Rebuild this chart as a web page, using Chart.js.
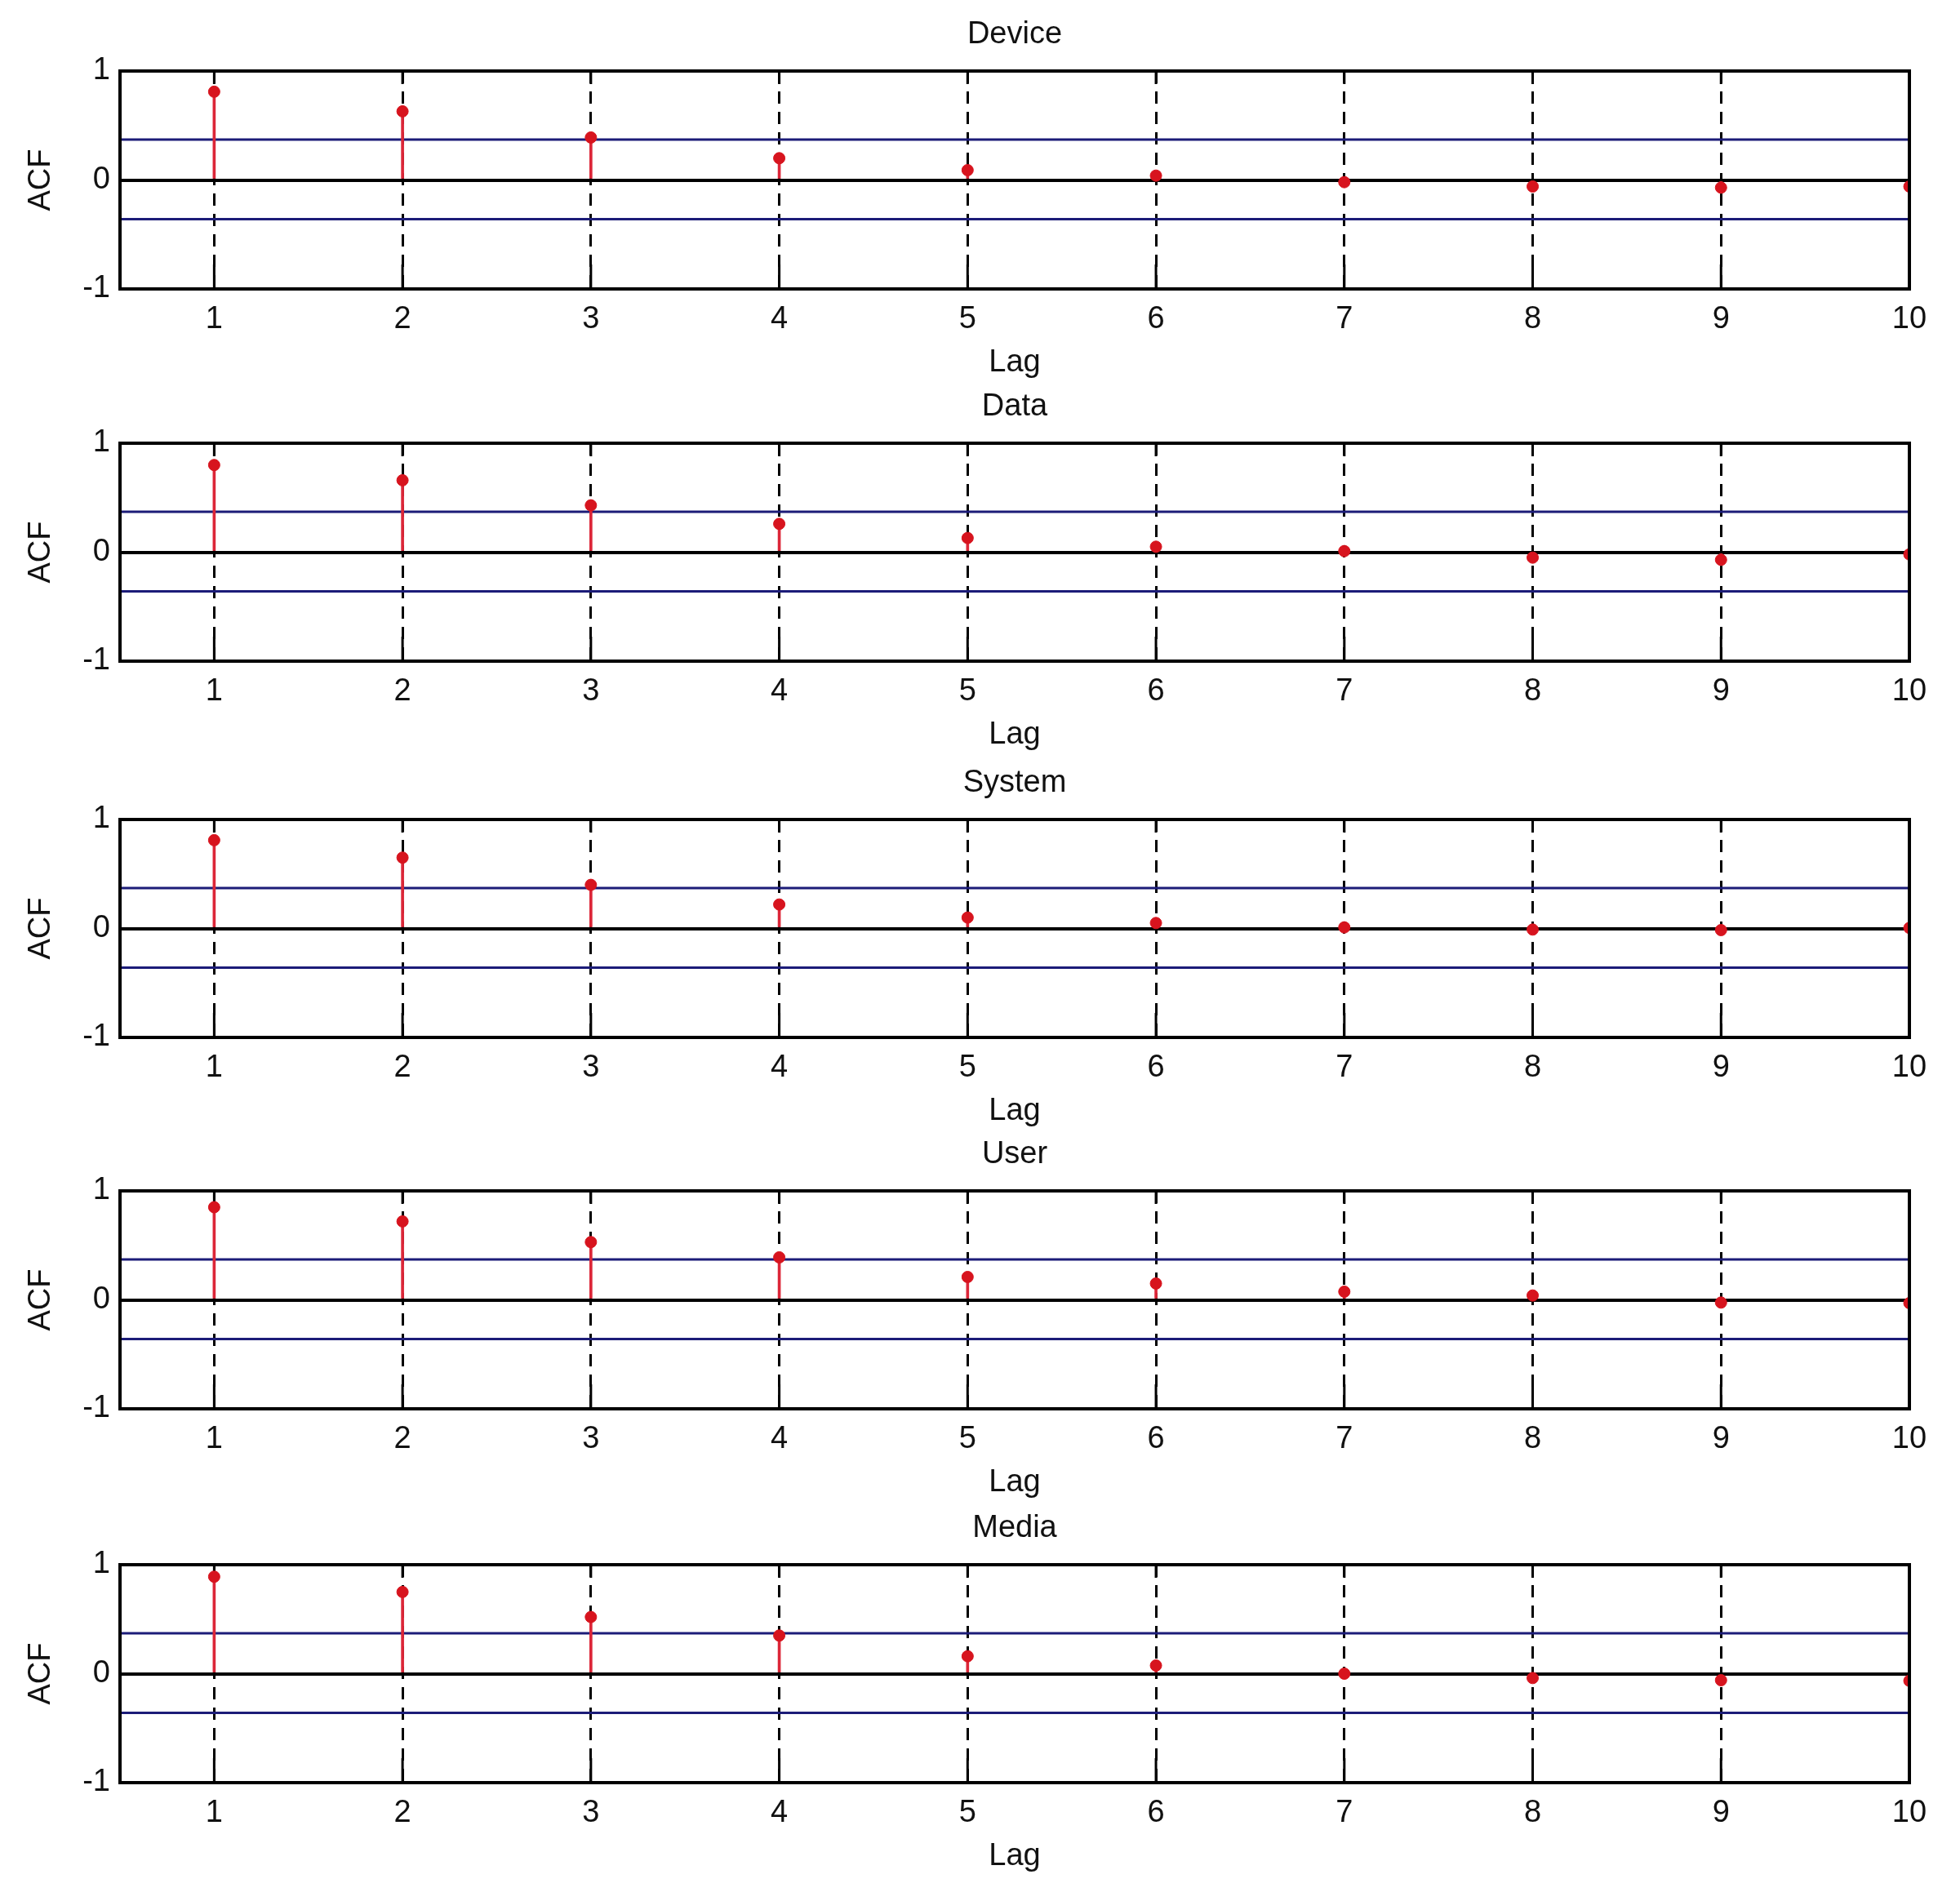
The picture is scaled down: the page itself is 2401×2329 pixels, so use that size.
<!DOCTYPE html>
<html>
<head>
<meta charset="utf-8">
<script src="https://cdn.jsdelivr.net/npm/chart.js@4/dist/chart.umd.min.js"></script>
<style>
  html, body { margin: 0; padding: 0; background: #fff; }
  #page { position: relative; width: 2401px; height: 2329px; overflow: hidden; background: #fff; }
  .panel { position: absolute; left: 0; width: 2401px; height: 480px; }
</style>
</head>
<body>
<div id="page"></div>
<script>
// Lag axis and tick labels
const lags = [1, 2, 3, 4, 5, 6, 7, 8, 9, 10];
const lagMin = 0.5;
const lagMax = 10;
const acfTicks = [-1, 0, 1];

// Panel titles, top to bottom
const panelTitles = ["Device", "Data", "System", "User", "Media"];

// ACF values per lag
const deviceAcf = [0.81, 0.63, 0.39, 0.20, 0.09, 0.04, -0.02, -0.06, -0.07, -0.06];
const dataAcf   = [0.80, 0.66, 0.43, 0.26, 0.13, 0.05, 0.01, -0.05, -0.07, -0.02];
const systemAcf = [0.81, 0.65, 0.40, 0.22, 0.10, 0.05, 0.01, -0.01, -0.015, 0.005];
const userAcf   = [0.85, 0.72, 0.53, 0.39, 0.21, 0.15, 0.075, 0.04, -0.025, -0.03];
const mediaAcf  = [0.89, 0.75, 0.52, 0.35, 0.16, 0.075, 0.0, -0.04, -0.06, -0.065];

// Confidence bounds (blue lines)
const upperBound = 0.37;
const lowerBound = -0.36;

const allSeries = [deviceAcf, dataAcf, systemAcf, userAcf, mediaAcf];

// Layout: top of each plot box in page pixels
const plotTops = [87, 543, 1004, 1459, 1917];
const headSpace = 87;

Chart.defaults.font.family = '"Liberation Sans", Arial, sans-serif';
Chart.defaults.font.size = 38;
Chart.defaults.color = "#111";

// Frame on all four sides plus short inward tick marks, like MATLAB axes
const matlabBox = {
    id: "matlabBox",
    beforeDatasetsDraw(chart) {
        const { ctx, chartArea: a, scales: { x } } = chart;
        ctx.save();
        ctx.strokeStyle = "#000";
        ctx.lineWidth = 3;
        ctx.beginPath();
        x.ticks.forEach(t => {
            const px = x.getPixelForValue(t.value);
            ctx.moveTo(px, a.top);
            ctx.lineTo(px, a.top + 16);
            ctx.moveTo(px, a.bottom);
            ctx.lineTo(px, a.bottom - 30);
        });
        ctx.stroke();
        ctx.restore();
    },
    afterDraw(chart) {
        const { ctx, chartArea: a } = chart;
        ctx.save();
        ctx.strokeStyle = "#000";
        ctx.lineWidth = 4;
        ctx.strokeRect(a.left, a.top, a.right - a.left, a.bottom - a.top);
        ctx.restore();
    }
};

const page = document.getElementById("page");

panelTitles.forEach((title, i) => {
    const values = allSeries[i];

    const box = document.createElement("div");
    box.className = "panel";
    box.style.top = (plotTops[i] - headSpace) + "px";
    const canvas = document.createElement("canvas");
    canvas.width = 2401;
    canvas.height = 480;
    box.appendChild(canvas);
    page.appendChild(box);

    const points = lags.map((lag, k) => ({ x: lag, y: values[k] }));

    new Chart(canvas.getContext("2d"), {
        type: "bar",
        data: {
            datasets: [
                {
                    // stems
                    type: "bar",
                    data: points,
                    backgroundColor: "#dc2638",
                    borderWidth: 0,
                    barThickness: 3,
                    order: 2
                },
                {
                    // markers
                    type: "line",
                    data: points,
                    showLine: false,
                    pointRadius: 7,
                    pointBackgroundColor: "#d7141e",
                    pointBorderColor: "#d7141e",
                    pointBorderWidth: 1,
                    order: 1
                },
                {
                    // upper bound
                    type: "line",
                    data: [{ x: lagMin, y: upperBound }, { x: lagMax, y: upperBound }],
                    borderColor: "#1c1c78",
                    borderWidth: 3,
                    pointRadius: 0,
                    order: 3
                },
                {
                    // lower bound
                    type: "line",
                    data: [{ x: lagMin, y: lowerBound }, { x: lagMax, y: lowerBound }],
                    borderColor: "#1c1c78",
                    borderWidth: 3,
                    pointRadius: 0,
                    order: 3
                }
            ]
        },
        options: {
            responsive: false,
            animation: false,
            devicePixelRatio: 1,
            layout: { padding: { left: 0, right: 62, top: 0, bottom: 0 } },
            plugins: {
                legend: { display: false },
                tooltip: { enabled: false },
                title: {
                    display: true,
                    text: title,
                    fullSize: false,
                    color: "#111",
                    font: { size: 38, weight: "normal" },
                    padding: { top: 20, bottom: 21.4 }
                }
            },
            scales: {
                x: {
                    type: "linear",
                    min: lagMin,
                    max: lagMax,
                    offset: false,
                    afterBuildTicks: s => { s.ticks = lags.map(v => ({ value: v })); },
                    afterFit: s => { s.height = 126; },
                    ticks: { padding: 15, color: "#111", maxRotation: 0, autoSkip: false },
                    grid: {
                        offset: false,
                        drawTicks: false,
                        color: "#000",
                        lineWidth: 3
                    },
                    border: { display: true, color: "#000", width: 4, dash: [15, 10] },
                    title: {
                        display: true,
                        text: "Lag",
                        color: "#111",
                        padding: { top: 0, bottom: 13 }
                    }
                },
                y: {
                    min: -1,
                    max: 1,
                    afterBuildTicks: s => { s.ticks = acfTicks.map(v => ({ value: v })); },
                    afterFit: s => { s.width = 147; },
                    ticks: { padding: 12, color: "#111", callback: v => String(v) },
                    grid: {
                        drawTicks: false,
                        color: c => (c.tick && c.tick.value === 0 ? "#000" : "rgba(0,0,0,0)"),
                        lineWidth: 4
                    },
                    border: { display: true, color: "#000", width: 4 },
                    title: {
                        display: true,
                        text: "ACF",
                        color: "#111",
                        padding: { top: 28, bottom: 0 }
                    }
                }
            }
        },
        plugins: [matlabBox]
    });
});
</script>
</body>
</html>
